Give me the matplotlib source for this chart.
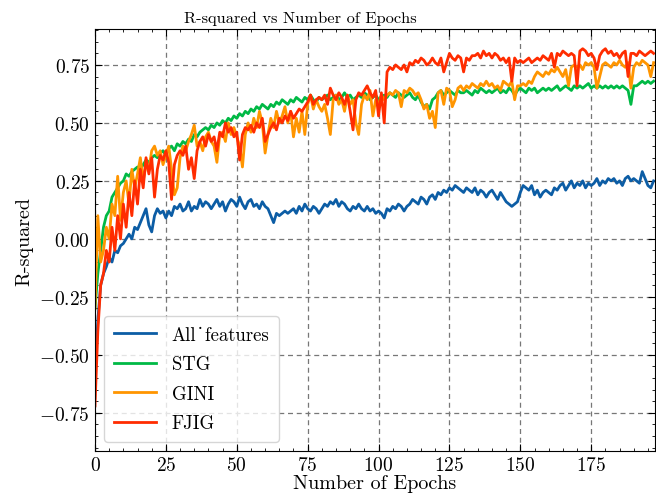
import numpy as np
import matplotlib
matplotlib.use("Agg")
import matplotlib.pyplot as plt
from matplotlib.ticker import MultipleLocator

# 类似 SciencePlots 的风格
plt.rcParams['font.family'] = ['cmr10', 'DejaVu Serif']
plt.rcParams['mathtext.fontset'] = 'cm'
plt.rcParams['axes.formatter.use_mathtext'] = True
plt.rcParams['font.size'] = 14

# 数据 (从图中估计)
all_features = [
    -0.60, -0.35, -0.20, -0.15, -0.12, -0.08, -0.10, -0.05, -0.06, -0.03,
    -0.02, 0.00, 0.02, 0.00, 0.05, 0.04, 0.07, 0.10, 0.13, 0.06,
    0.03, 0.10, 0.13, 0.11, 0.12, 0.09, 0.12, 0.10, 0.14, 0.13,
    0.15, 0.12, 0.13, 0.16, 0.12, 0.14, 0.13, 0.17, 0.14, 0.16,
    0.15, 0.13, 0.15, 0.17, 0.14, 0.16, 0.12, 0.15, 0.17, 0.16,
    0.14, 0.18, 0.15, 0.13, 0.16, 0.17, 0.14, 0.15, 0.13, 0.16,
    0.14, 0.13, 0.10, 0.07, 0.11, 0.10, 0.11, 0.12, 0.11, 0.12,
    0.13, 0.11, 0.14, 0.12, 0.15, 0.13, 0.12, 0.14, 0.13, 0.11,
    0.13, 0.15, 0.14, 0.16, 0.15, 0.17, 0.14, 0.16, 0.15, 0.13,
    0.12, 0.14, 0.13, 0.15, 0.13, 0.12, 0.14, 0.12, 0.13, 0.11,
    0.12, 0.11, 0.09, 0.13, 0.12, 0.14, 0.13, 0.15, 0.14, 0.12,
    0.14, 0.15, 0.17, 0.16, 0.15, 0.18, 0.17, 0.15, 0.18, 0.19,
    0.17, 0.20, 0.19, 0.21, 0.20, 0.22, 0.21, 0.23, 0.22, 0.21,
    0.20, 0.22, 0.21, 0.20, 0.22, 0.19, 0.21, 0.20, 0.18, 0.20,
    0.21, 0.19, 0.17, 0.20, 0.18, 0.16, 0.15, 0.14, 0.15, 0.16,
    0.20, 0.23, 0.22, 0.21, 0.23, 0.19, 0.21, 0.18, 0.20, 0.21,
    0.20, 0.19, 0.22, 0.21, 0.23, 0.24, 0.21, 0.23, 0.25, 0.22,
    0.24, 0.23, 0.25, 0.22, 0.24, 0.23, 0.24, 0.26, 0.23, 0.25,
    0.24, 0.26, 0.25, 0.26, 0.24, 0.25, 0.23, 0.26, 0.27, 0.25,
    0.26, 0.25, 0.24, 0.29, 0.26, 0.23, 0.22, 0.25,
]

stg = [
    -0.30, -0.15, -0.05, 0.05, 0.10, 0.12, 0.18, 0.20, 0.22, 0.24,
    0.25, 0.28, 0.27, 0.29, 0.30, 0.31, 0.30, 0.32, 0.34, 0.33,
    0.35, 0.36, 0.35, 0.37, 0.38, 0.36, 0.39, 0.40, 0.38, 0.41,
    0.40, 0.42, 0.41, 0.43, 0.42, 0.45, 0.44, 0.46, 0.47, 0.48,
    0.47, 0.49, 0.48, 0.50, 0.49, 0.51, 0.50, 0.52, 0.51, 0.53,
    0.52, 0.54, 0.53, 0.55, 0.54, 0.56, 0.55, 0.57, 0.56, 0.58,
    0.57, 0.56, 0.58, 0.57, 0.59, 0.58, 0.60, 0.59, 0.58, 0.60,
    0.59, 0.61, 0.60, 0.59, 0.61, 0.60, 0.62, 0.60, 0.59, 0.61,
    0.60, 0.61, 0.62, 0.60, 0.61, 0.62, 0.60, 0.61, 0.63, 0.61,
    0.62, 0.60, 0.61, 0.62, 0.61, 0.63, 0.62, 0.60, 0.61, 0.62,
    0.60, 0.61, 0.62, 0.61, 0.63, 0.62, 0.61, 0.63, 0.62, 0.61,
    0.62, 0.63, 0.61, 0.60, 0.62, 0.59, 0.57, 0.58, 0.56, 0.60,
    0.61, 0.63, 0.64, 0.62, 0.63, 0.64, 0.63, 0.62, 0.64, 0.63,
    0.63, 0.64, 0.63, 0.62, 0.64, 0.63, 0.65, 0.64, 0.63, 0.64,
    0.63, 0.64, 0.65, 0.63, 0.64, 0.63, 0.65, 0.64, 0.62, 0.64,
    0.65, 0.64, 0.63, 0.65, 0.64, 0.65, 0.63, 0.64, 0.65, 0.64,
    0.65, 0.64, 0.65, 0.66, 0.64, 0.65, 0.66, 0.65, 0.64, 0.66,
    0.65, 0.66, 0.65, 0.66, 0.67, 0.65, 0.66, 0.65, 0.66, 0.65,
    0.66, 0.65, 0.66, 0.65, 0.66, 0.65, 0.66, 0.65, 0.64, 0.58,
    0.66, 0.66, 0.67, 0.68, 0.67, 0.68, 0.67, 0.68,
]

gini = [
    -0.30, 0.10, -0.10, -0.05, 0.05, 0.00, 0.15, 0.10, 0.27, 0.08,
    0.20, 0.25, 0.15, 0.30, 0.22, 0.28, 0.35, 0.25, 0.32, 0.30,
    0.38, 0.40, 0.36, 0.38, 0.32, 0.36, 0.40, 0.30, 0.19, 0.22,
    0.35, 0.40, 0.38, 0.42, 0.45, 0.49, 0.40, 0.42, 0.38, 0.44,
    0.46, 0.42, 0.40, 0.33, 0.45, 0.46, 0.42, 0.50, 0.45, 0.48,
    0.44, 0.40, 0.31, 0.45, 0.50, 0.46, 0.52, 0.48, 0.55, 0.50,
    0.37, 0.45, 0.52, 0.48, 0.55, 0.50, 0.53, 0.57, 0.50, 0.55,
    0.44, 0.52, 0.46, 0.55, 0.45, 0.58, 0.62, 0.56, 0.60, 0.57,
    0.55, 0.58, 0.52, 0.45, 0.60, 0.62, 0.58, 0.60, 0.55, 0.62,
    0.58, 0.60, 0.50, 0.45, 0.58, 0.62, 0.60, 0.64, 0.53, 0.60,
    0.58, 0.62, 0.60, 0.62, 0.63, 0.62, 0.64, 0.63, 0.57, 0.64,
    0.63, 0.65, 0.64, 0.62, 0.63, 0.60, 0.56, 0.58, 0.52, 0.55,
    0.48, 0.63, 0.64, 0.58, 0.65, 0.64, 0.57, 0.60, 0.65, 0.66,
    0.64, 0.66, 0.65, 0.67, 0.66, 0.65, 0.67, 0.66, 0.68, 0.66,
    0.67, 0.65, 0.66, 0.64, 0.68, 0.67, 0.66, 0.68, 0.60, 0.66,
    0.66, 0.67, 0.66, 0.68, 0.67, 0.70, 0.72, 0.71, 0.70, 0.72,
    0.71, 0.73, 0.72, 0.74, 0.72, 0.70, 0.73, 0.66, 0.74, 0.75,
    0.74, 0.75, 0.73, 0.76, 0.75, 0.76, 0.74, 0.65, 0.70, 0.75,
    0.76, 0.75, 0.74, 0.76, 0.75, 0.77, 0.75, 0.74, 0.76, 0.65,
    0.74, 0.76, 0.75, 0.77, 0.76, 0.75, 0.70, 0.76,
]

fjig = [
    -0.72, -0.40, -0.20, -0.15, -0.05, -0.10, 0.05, -0.05, 0.10, 0.00,
    0.15, 0.05, 0.20, 0.10, 0.25, 0.15, 0.30, 0.22, 0.35, 0.28,
    0.35, 0.18, 0.30, 0.36, 0.34, 0.38, 0.33, 0.17, 0.32, 0.36,
    0.38, 0.36, 0.40, 0.30, 0.35, 0.26, 0.38, 0.42, 0.44, 0.40,
    0.45, 0.42, 0.44, 0.38, 0.46, 0.44, 0.50, 0.46, 0.48, 0.44,
    0.46, 0.34, 0.45, 0.48, 0.47, 0.49, 0.46, 0.50, 0.48, 0.52,
    0.42, 0.45, 0.48, 0.50, 0.47, 0.52, 0.50, 0.53, 0.51, 0.55,
    0.52, 0.54, 0.56, 0.55, 0.57, 0.59, 0.62, 0.58, 0.60, 0.61,
    0.60, 0.62, 0.58, 0.65, 0.62, 0.60, 0.63, 0.61, 0.58, 0.62,
    0.55, 0.47, 0.60, 0.63, 0.62, 0.64, 0.66, 0.63, 0.61, 0.64,
    0.53, 0.63, 0.50, 0.72, 0.74, 0.73, 0.75, 0.74, 0.73, 0.75,
    0.72, 0.76, 0.75, 0.77, 0.76, 0.78, 0.77, 0.75, 0.76, 0.78,
    0.76, 0.75, 0.78, 0.72, 0.76, 0.80, 0.78, 0.77, 0.79, 0.78,
    0.72, 0.78, 0.77, 0.79, 0.79, 0.80, 0.78, 0.81, 0.79, 0.80,
    0.78, 0.80, 0.79, 0.77, 0.78, 0.76, 0.78, 0.68, 0.78, 0.76,
    0.77, 0.76, 0.77, 0.78, 0.76, 0.77, 0.78, 0.77, 0.79, 0.78,
    0.77, 0.80, 0.74, 0.80, 0.79, 0.81, 0.80, 0.79, 0.80, 0.79,
    0.66, 0.81, 0.82, 0.81, 0.79, 0.80, 0.78, 0.73, 0.79, 0.81,
    0.82, 0.80, 0.81, 0.79, 0.80, 0.78, 0.80, 0.81, 0.70, 0.80,
    0.80, 0.79, 0.81, 0.80, 0.79, 0.80, 0.81, 0.80,
]

series = [all_features, stg, gini, fjig]
labels = ['All\u02d9features', 'STG', 'GINI', 'FJIG']
colors = ['#0C5DA5', '#00B945', '#FF9500', '#FF2C00']

fig = plt.figure(figsize=(6.56, 5.02), dpi=100)
ax = fig.add_axes([0.1448, 0.0996, 0.8537, 0.8406])

epochs = np.arange(len(all_features))
for y, lab, c in zip(series, labels, colors):
    ax.plot(epochs, y, color=c, lw=2, label=lab)

ax.set_xlim(0, 197.5)
ax.set_ylim(-0.915, 0.905)
ax.xaxis.set_major_locator(MultipleLocator(25))
ax.xaxis.set_minor_locator(MultipleLocator(5))
ax.yaxis.set_major_locator(MultipleLocator(0.25))
ax.yaxis.set_minor_locator(MultipleLocator(0.05))
ax.tick_params(which='both', direction='in', top=True, right=True)
ax.tick_params(which='major', length=5, width=0.8, labelsize=14)
ax.tick_params(which='minor', length=2.5, width=0.6)
ax.grid(True, which='major', linestyle=(0, (4, 3)), color='#777777', lw=0.9)

# 标题在参考图中偏左 (居中于 x≈300px)
ax.set_title('R-squared vs Number of Epochs', fontsize=11.8, pad=5, x=0.366)
ax.set_xlabel('Number of Epochs', fontsize=14.5, labelpad=0)
ax.set_ylabel('R-squared', fontsize=14.5, labelpad=4)
ax.legend(loc='lower left', fontsize=13.5, handlelength=2.25, borderpad=0.5,
          labelspacing=0.62, handletextpad=0.85, fancybox=True)

fig.savefig('out.png', dpi=100)
